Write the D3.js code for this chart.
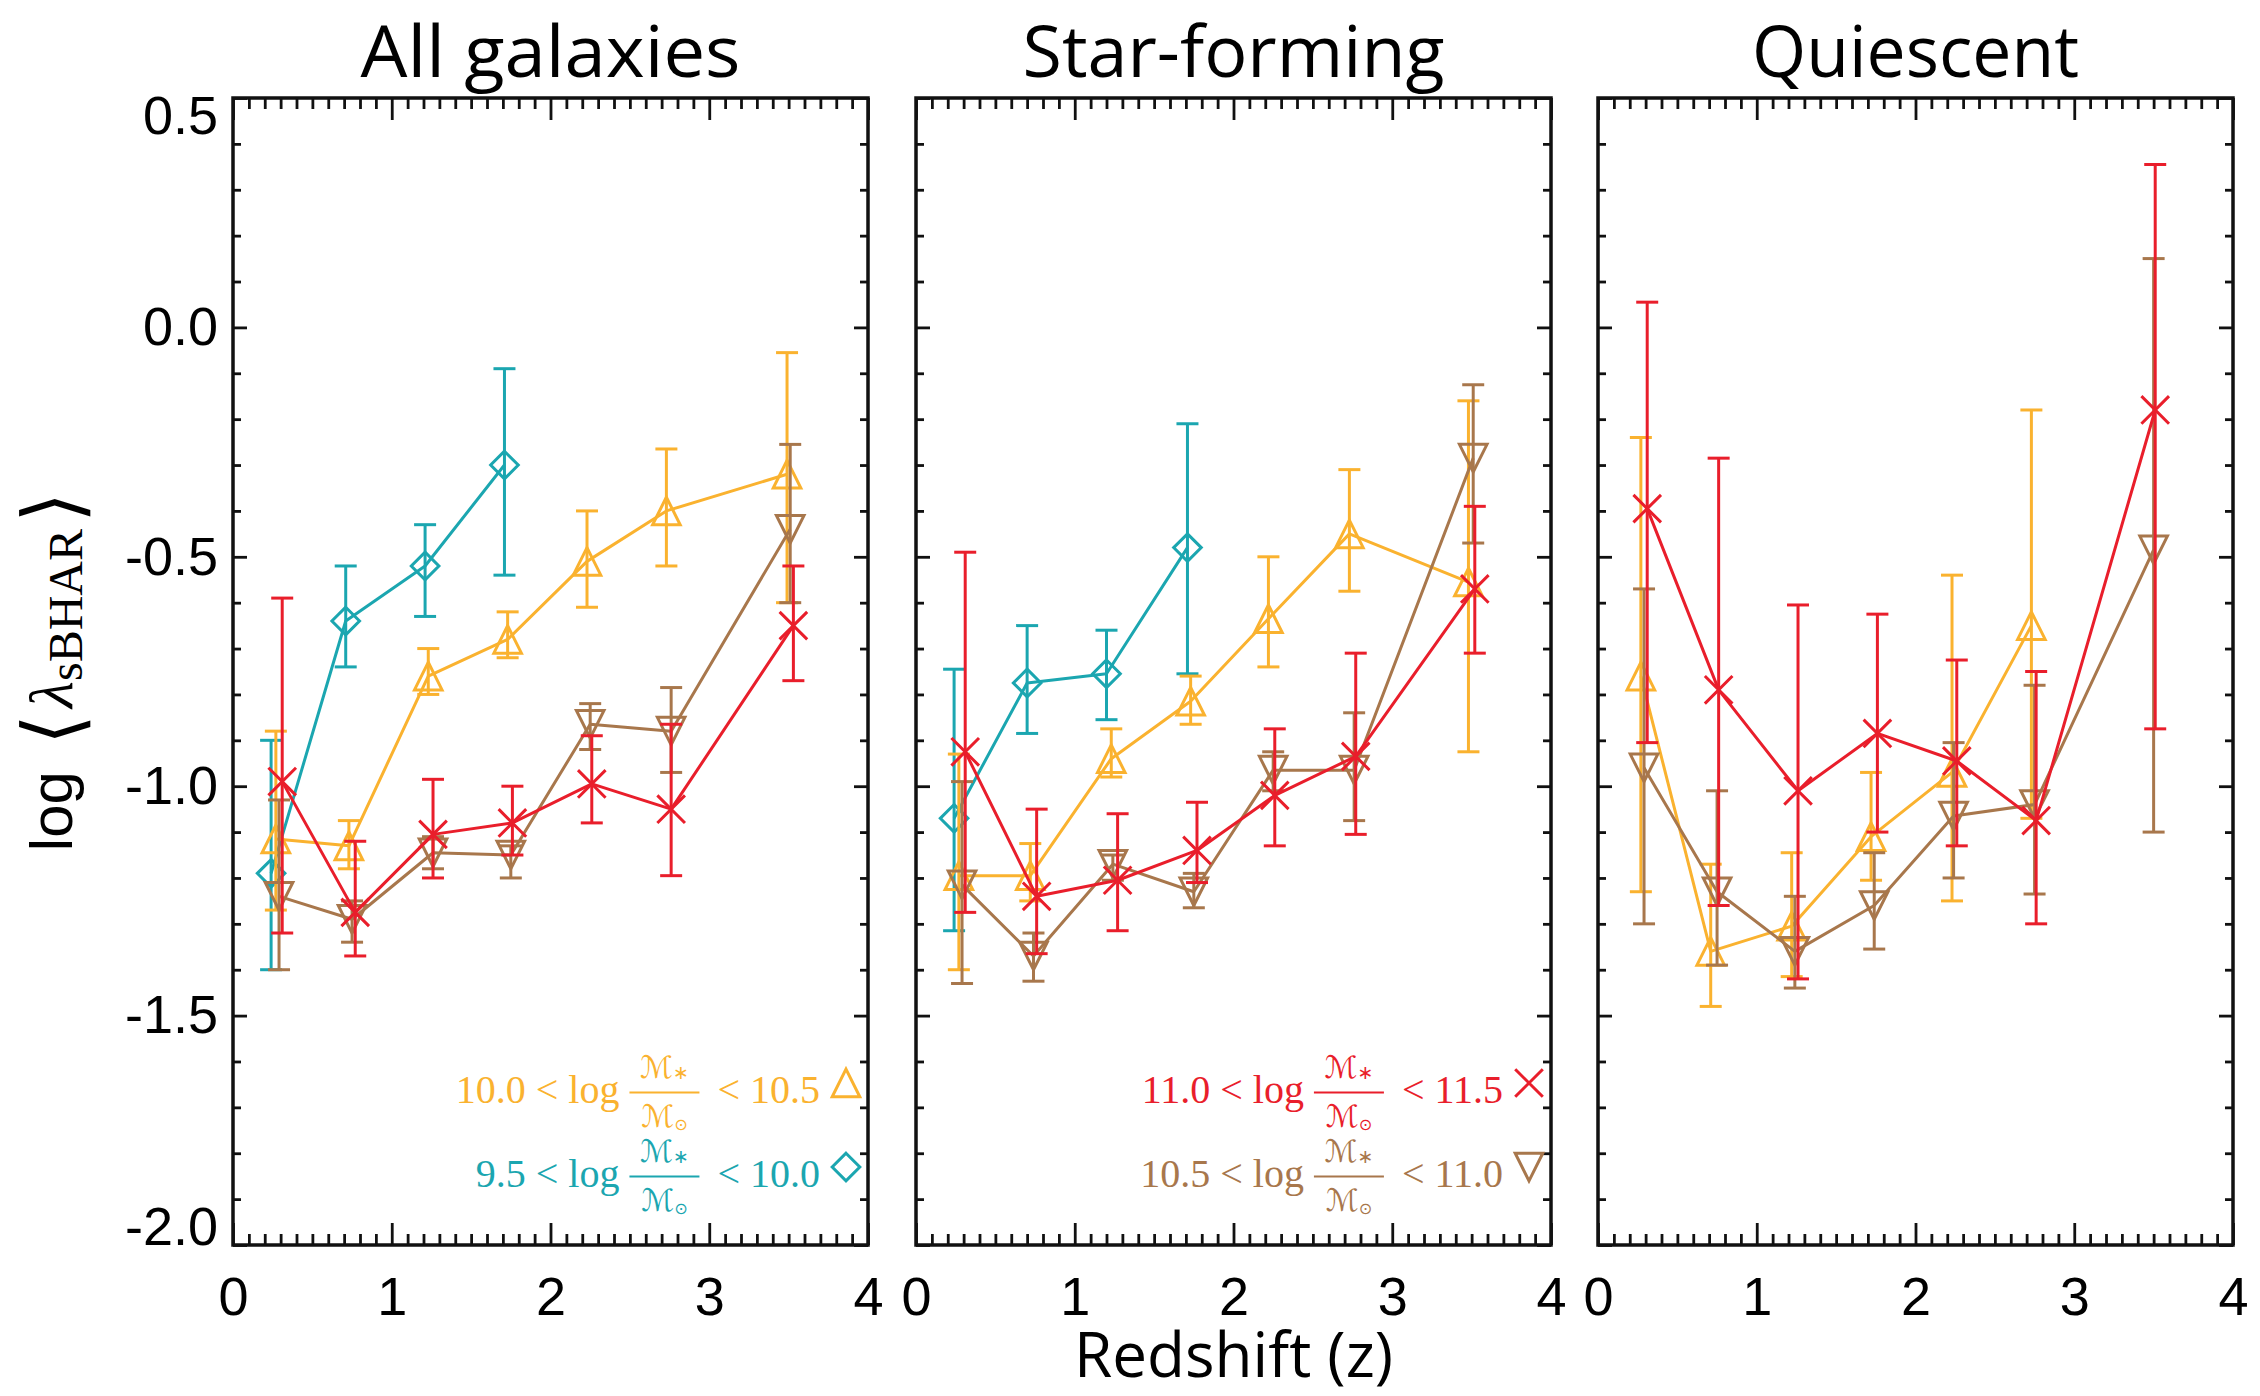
<!DOCTYPE html>
<html>
<head>
<meta charset="utf-8">
<script src="https://cdn.jsdelivr.net/npm/d3@7"></script>
<style>
  body { margin: 0; background: #fff; }
  svg { display: block; }
</style>
</head>
<body>
<svg id="chart" width="2260" height="1396"></svg>
<script>
// ---- data -------------------------------------------------------------
const panelTitles = ["All galaxies", "Star-forming", "Quiescent"];
const xTickValues = [0, 1, 2, 3, 4];
const yTickValues = [0.5, 0.0, -0.5, -1.0, -1.5, -2.0];
const yTickLabels = ["0.5", "0.0", "-0.5", "-1.0", "-1.5", "-2.0"];

// stellar-mass bins (log M*/Msun)
const binLower = ["9.5", "10.0", "10.5", "11.0"];
const binUpper = ["10.0", "10.5", "11.0", "11.5"];

// rows: [redshift, log <lambda_sBHAR>, lower bound, upper bound]
// All galaxies
const allLow = [
  [0.24, -1.19, -1.40, -0.90],
  [0.71, -0.64, -0.74, -0.52],
  [1.21, -0.52, -0.63, -0.43],
  [1.71, -0.30, -0.54, -0.09]
];
const allMid = [
  [0.27, -1.115, -1.27, -0.88],
  [0.73, -1.13, -1.18, -1.075],
  [1.23, -0.76, -0.80, -0.70],
  [1.73, -0.68, -0.72, -0.62],
  [2.23, -0.51, -0.61, -0.40],
  [2.73, -0.40, -0.52, -0.265],
  [3.49, -0.32, -0.60, -0.055]
];
const allHigh = [
  [0.29, -1.24, -1.40, -1.03],
  [0.75, -1.29, -1.34, -1.25],
  [1.26, -1.145, -1.18, -1.11],
  [1.75, -1.15, -1.20, -1.13],
  [2.25, -0.865, -0.92, -0.82],
  [2.76, -0.88, -0.97, -0.785],
  [3.51, -0.44, -0.60, -0.255]
];
const allTop = [
  [0.31, -0.99, -1.32, -0.59],
  [0.77, -1.275, -1.37, -1.12],
  [1.26, -1.105, -1.20, -0.985],
  [1.76, -1.08, -1.15, -1.00],
  [2.26, -0.995, -1.08, -0.89],
  [2.76, -1.05, -1.195, -0.865],
  [3.53, -0.65, -0.77, -0.52]
];

// Star-forming
const sfLow = [
  [0.24, -1.07, -1.315, -0.745],
  [0.70, -0.775, -0.885, -0.65],
  [1.20, -0.755, -0.855, -0.66],
  [1.71, -0.48, -0.755, -0.21]
];
const sfMid = [
  [0.27, -1.195, -1.40, -0.93],
  [0.72, -1.195, -1.25, -1.125],
  [1.23, -0.94, -0.98, -0.875],
  [1.73, -0.815, -0.865, -0.76],
  [2.22, -0.635, -0.74, -0.50],
  [2.73, -0.45, -0.575, -0.31],
  [3.48, -0.555, -0.925, -0.16]
];
const sfHigh = [
  [0.29, -1.215, -1.43, -0.99],
  [0.74, -1.37, -1.425, -1.32],
  [1.24, -1.17, -1.205, -1.15],
  [1.75, -1.23, -1.265, -1.19],
  [2.25, -0.965, -1.01, -0.925],
  [2.76, -0.965, -1.075, -0.84],
  [3.51, -0.285, -0.47, -0.125]
];
const sfTop = [
  [0.31, -0.925, -1.275, -0.49],
  [0.76, -1.24, -1.365, -1.05],
  [1.27, -1.205, -1.315, -1.06],
  [1.77, -1.14, -1.21, -1.035],
  [2.26, -1.02, -1.13, -0.875],
  [2.77, -0.935, -1.105, -0.71],
  [3.52, -0.57, -0.71, -0.39]
];

// Quiescent (no low-mass bin)
const qMid = [
  [0.27, -0.76, -1.23, -0.24],
  [0.71, -1.36, -1.48, -1.17],
  [1.22, -1.305, -1.415, -1.145],
  [1.72, -1.11, -1.205, -0.97],
  [2.23, -0.97, -1.25, -0.54],
  [2.73, -0.65, -1.07, -0.18]
];
const qHigh = [
  [0.29, -0.96, -1.30, -0.57],
  [0.75, -1.23, -1.39, -1.01],
  [1.24, -1.36, -1.44, -1.24],
  [1.74, -1.26, -1.355, -1.145],
  [2.24, -1.065, -1.20, -0.905],
  [2.75, -1.04, -1.235, -0.78],
  [3.50, -0.485, -1.10, 0.15]
];
const qTop = [
  [0.31, -0.395, -0.905, 0.055],
  [0.76, -0.79, -1.26, -0.285],
  [1.26, -1.01, -1.42, -0.605],
  [1.76, -0.885, -1.10, -0.625],
  [2.26, -0.945, -1.13, -0.725],
  [2.76, -1.075, -1.30, -0.75],
  [3.51, -0.18, -0.875, 0.355]
];

// ---- styling ------------------------------------------------------------
const binColors  = ["#1ba6b0", "#fab22f", "#a8774c", "#e91e2b"];
const binSymbols = ["diamond", "triangleUp", "triangleDown", "cross"];

const panels = [
  { title: panelTitles[0], series: [allLow, allMid, allHigh, allTop], legend: [1, 0] },
  { title: panelTitles[1], series: [sfLow, sfMid, sfHigh, sfTop],     legend: [3, 2] },
  { title: panelTitles[2], series: [null, qMid, qHigh, qTop],          legend: [] }
];

const W = 2260, H = 1396;
const panelLeft = [233, 916, 1598];
const panelWidth = 635;
const plotTop = 98, plotBottom = 1245;

const svg = d3.select("#chart");
svg.append("rect").attr("width", W).attr("height", H).attr("fill", "#fff");

const SANS = "'Liberation Sans', Arial, Helvetica, sans-serif";
const HUMAN = "'Open Sans', 'Noto Sans', sans-serif";
const SERIF = "'Liberation Serif', 'DejaVu Serif', serif";
const MATH = "'DejaVu Sans', 'DejaVu Serif', serif";

const y = d3.scaleLinear().domain([-2, 0.5]).range([plotBottom, plotTop]);

function symbolPath(kind) {
  const s = 13.8;
  switch (kind) {
    case "diamond":      return `M0,${-s}L${s},0L0,${s}L${-s},0Z`;
    case "triangleUp":   return `M0,${-s}L${s},${s}L${-s},${s}Z`;
    case "triangleDown": return `M0,${s}L${s},${-s}L${-s},${-s}Z`;
    default:             return `M${-s},${-s}L${s},${s}M${-s},${s}L${s},${-s}`;
  }
}

const minorX = d3.range(41).filter(i => i % 10 !== 0).map(i => i / 10);
const minorY = d3.range(-20, 6).filter(i => i % 5 !== 0).map(i => i / 10);

function styleAxis(g) {
  g.select(".domain").remove();
  g.selectAll(".tick line").attr("stroke", "#111").attr("stroke-width", 2.8);
  g.selectAll("text").attr("font-family", SANS).attr("font-size", 54).attr("fill", "#000");
}

panels.forEach((p, pi) => {
  const left = panelLeft[pi], right = left + panelWidth;
  const x = d3.scaleLinear().domain([0, 4]).range([left, right]);
  const g = svg.append("g").attr("class", "panel");

  // ticks on all four sides, pointing inward
  g.append("g").attr("transform", `translate(0,${plotBottom})`)
    .call(d3.axisBottom(x).tickValues(xTickValues).tickSize(-22).tickPadding(32).tickFormat(d3.format("d")))
    .call(styleAxis);
  g.append("g").attr("transform", `translate(0,${plotBottom})`)
    .call(d3.axisBottom(x).tickValues(minorX).tickSize(-11).tickFormat(""))
    .call(styleAxis);
  g.append("g").attr("transform", `translate(0,${plotTop})`)
    .call(d3.axisTop(x).tickValues(xTickValues).tickSize(-22).tickFormat(""))
    .call(styleAxis);
  g.append("g").attr("transform", `translate(0,${plotTop})`)
    .call(d3.axisTop(x).tickValues(minorX).tickSize(-11).tickFormat(""))
    .call(styleAxis);

  const yLeft = g.append("g").attr("transform", `translate(${left},0)`)
    .call(d3.axisLeft(y).tickValues(yTickValues).tickSize(-14).tickPadding(15)
      .tickFormat(pi === 0 ? ((d, i) => yTickLabels[i]) : ""))
    .call(styleAxis);
  if (pi === 0) {
    yLeft.selectAll(".tick text")
      .filter(d => d === 0.5).attr("y", 18);
    yLeft.selectAll(".tick text")
      .filter(d => d === -2.0).attr("y", -18);
  }
  g.append("g").attr("transform", `translate(${left},0)`)
    .call(d3.axisLeft(y).tickValues(minorY).tickSize(-8).tickFormat(""))
    .call(styleAxis);
  g.append("g").attr("transform", `translate(${right},0)`)
    .call(d3.axisRight(y).tickValues(yTickValues).tickSize(-14).tickFormat(""))
    .call(styleAxis);
  g.append("g").attr("transform", `translate(${right},0)`)
    .call(d3.axisRight(y).tickValues(minorY).tickSize(-8).tickFormat(""))
    .call(styleAxis);

  // frame
  g.append("rect")
    .attr("x", left).attr("y", plotTop)
    .attr("width", panelWidth).attr("height", plotBottom - plotTop)
    .attr("fill", "none").attr("stroke", "#111").attr("stroke-width", 3.5);

  // title
  g.append("text")
    .attr("x", (left + right) / 2).attr("y", 77)
    .attr("text-anchor", "middle")
    .attr("font-family", HUMAN).attr("font-size", 71)
    .attr("textLength", [380, 422, 327][pi]).attr("lengthAdjust", "spacingAndGlyphs")
    .attr("fill", "#000")
    .text(p.title);

  // data series
  const line = d3.line().x(d => x(d[0])).y(d => y(d[1]));
  p.series.forEach((rows, si) => {
    if (!rows) return;
    const color = binColors[si];
    const sg = g.append("g").attr("class", "series");
    sg.append("path").datum(rows)
      .attr("d", line).attr("fill", "none")
      .attr("stroke", color).attr("stroke-width", 3).attr("stroke-linejoin", "round");
    const eb = sg.selectAll(".err").data(rows).join("g").attr("class", "err")
      .attr("stroke", color).attr("stroke-width", 3);
    eb.append("line")
      .attr("x1", d => x(d[0])).attr("x2", d => x(d[0]))
      .attr("y1", d => y(d[2])).attr("y2", d => y(d[3]));
    eb.append("line")
      .attr("x1", d => x(d[0]) - 11).attr("x2", d => x(d[0]) + 11)
      .attr("y1", d => y(d[2])).attr("y2", d => y(d[2]));
    eb.append("line")
      .attr("x1", d => x(d[0]) - 11).attr("x2", d => x(d[0]) + 11)
      .attr("y1", d => y(d[3])).attr("y2", d => y(d[3]));
    sg.selectAll(".mk").data(rows).join("path").attr("class", "mk")
      .attr("transform", d => `translate(${x(d[0])},${y(d[1])})`)
      .attr("d", symbolPath(binSymbols[si]))
      .attr("fill", "none").attr("stroke", color).attr("stroke-width", 3);
  });

  // legend: mass-bin labels with fractions, right-aligned inside the frame
  p.legend.forEach((bi, li) => {
    const color = binColors[bi];
    const base = [1103, 1187][li];
    const lg = g.append("g").attr("fill", color);
    const xEnd = right - 48;
    const rightTxt = lg.append("text")
      .attr("x", xEnd).attr("y", base).attr("text-anchor", "end")
      .attr("font-family", SERIF).attr("font-size", 40)
      .text("< " + binUpper[bi]);
    const w1 = rightTxt.node().getComputedTextLength();
    const barEnd = xEnd - w1 - 18;
    const barStart = barEnd - 70;
    const barY = base - 10.5;
    const cx = (barStart + barEnd) / 2;
    lg.append("line")
      .attr("x1", barStart).attr("x2", barEnd).attr("y1", barY).attr("y2", barY)
      .attr("stroke", color).attr("stroke-width", 1.8);
    const num = lg.append("text").attr("x", cx).attr("y", barY - 15)
      .attr("text-anchor", "middle").attr("font-family", MATH).attr("font-style", "italic");
    num.append("tspan").attr("font-size", 31).text("\u2133");
    num.append("tspan").attr("font-size", 19).attr("dy", 1).attr("font-style", "normal").text("\u2217");
    const den = lg.append("text").attr("x", cx).attr("y", barY + 34)
      .attr("text-anchor", "middle").attr("font-family", MATH).attr("font-style", "italic");
    den.append("tspan").attr("font-size", 31).text("\u2133");
    den.append("tspan").attr("font-size", 16).attr("dy", 3).attr("font-style", "normal").text("\u2299");
    lg.append("text")
      .attr("x", barStart - 10).attr("y", base).attr("text-anchor", "end")
      .attr("font-family", SERIF).attr("font-size", 40)
      .text(binLower[bi] + " < log");
    lg.append("path")
      .attr("transform", `translate(${right - 22},${base - 20})`)
      .attr("d", symbolPath(binSymbols[bi]))
      .attr("fill", "none").attr("stroke", color).attr("stroke-width", 3);
  });
});

// shared x-axis title
svg.append("text")
  .attr("x", (panelLeft[1] + panelLeft[1] + panelWidth) / 2).attr("y", 1377)
  .attr("text-anchor", "middle")
  .attr("font-family", HUMAN).attr("font-size", 62)
  .attr("textLength", 319).attr("lengthAdjust", "spacingAndGlyphs")
  .attr("fill", "#000")
  .text("Redshift (z)");

// y-axis title: log <lambda_sBHAR>
const yl = svg.append("text")
  .attr("transform", `translate(72,${(plotTop + plotBottom) / 2}) rotate(-90)`)
  .attr("text-anchor", "middle").attr("fill", "#000");
yl.append("tspan").attr("font-family", SANS).attr("font-size", 60).text("log");
yl.append("tspan").attr("font-family", MATH).attr("font-size", 80).attr("dx", 26).attr("dy", 8).text("\u27E8");
yl.append("tspan").attr("font-family", SERIF).attr("font-style", "italic").attr("font-size", 62).attr("dx", 6).attr("dy", -8).text("\u03BB");
yl.append("tspan").attr("font-family", SERIF).attr("font-size", 48).attr("dy", 10).text("sBHAR");
yl.append("tspan").attr("font-family", MATH).attr("font-size", 80).attr("dx", 6).attr("dy", -2).text("\u27E9");
</script>
</body>
</html>
